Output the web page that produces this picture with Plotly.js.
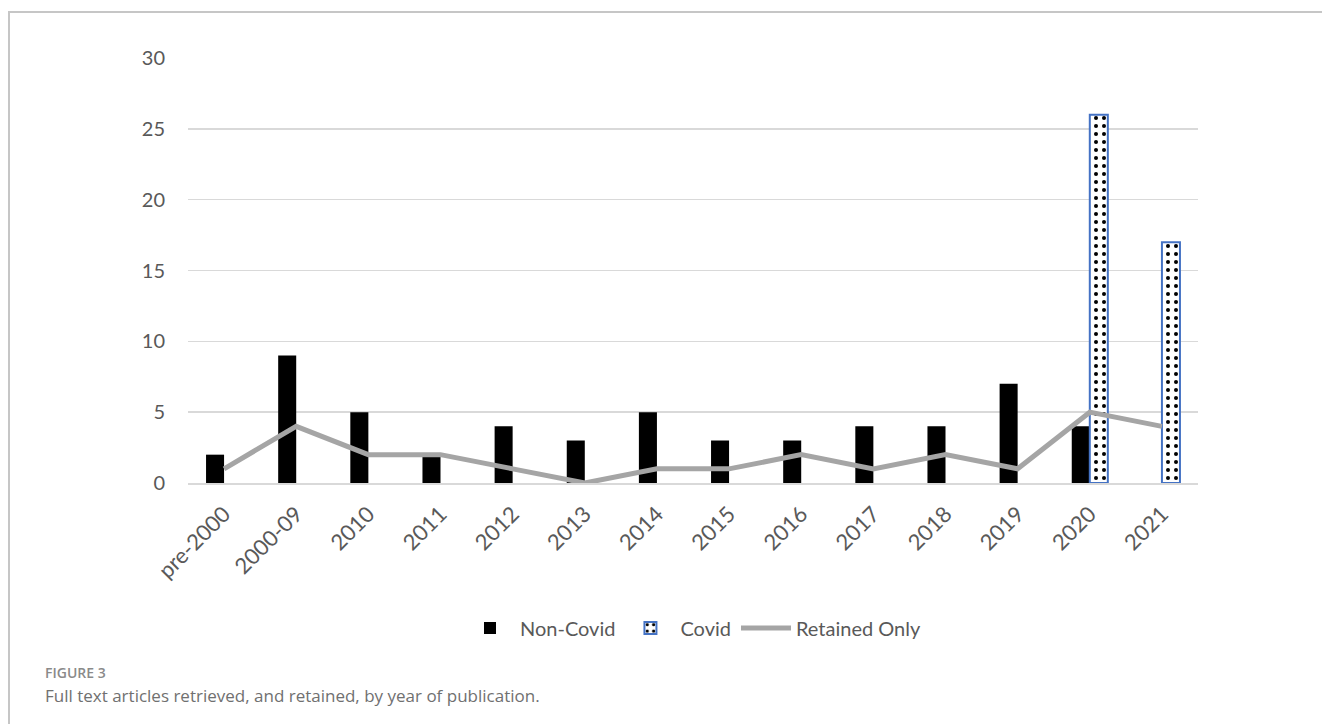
<!DOCTYPE html>
<html>
<head>
<meta charset="utf-8">
<script src="https://cdn.plot.ly/plotly-3.0.1.min.js"></script>
<style>
  html, body { margin:0; padding:0; background:#fff; }
  #frame { position:absolute; left:8px; top:11px; width:1314px; height:713px; border-left:2px solid #c6c6c6; border-top:2px solid #c6c6c6; box-sizing:border-box; pointer-events:none; z-index:5; }
  #chart { width:1322px; height:724px; }
</style>
</head>
<body>
<div id="frame"></div>
<div id="chart"></div>
<script>
const categories = ["pre-2000","2000-09","2010","2011","2012","2013","2014","2015","2016","2017","2018","2019","2020","2021"];
const nonCovid = [2, 9, 5, 2, 4, 3, 5, 3, 3, 4, 4, 7, 4, null];
const covid = [null, null, null, null, null, null, null, null, null, null, null, null, 26, 17];
const retainedOnly = [1, 4, 2, 2, 1, 0, 1, 1, 2, 1, 2, 1, 5, 4];
const yTicks = [0, 5, 10, 15, 20, 25, 30];
const figureLabel = "FIGURE 3";
const caption = "Full text articles retrieved, and retained, by year of publication.";

const tickFont = {family: "Lato, Liberation Sans, Arial, sans-serif", size: 20, color: "#595959"};
const xTickFont = {family: "Lato, Liberation Sans, Arial, sans-serif", size: 22, color: "#595959"};

const traces = [
  {type: "bar", name: "Non-Covid", x: categories, y: nonCovid,
   marker: {color: "#000000", line: {width: 0}}},
  {type: "bar", name: "Covid", x: categories, y: covid,
   marker: {color: "#ffffff", line: {color: "#4472C4", width: 2},
            pattern: {shape: ".", fgcolor: "#000000", bgcolor: "#ffffff", size: 8, solidity: 0.2}}},
  {type: "scatter", mode: "lines", name: "Retained Only", x: categories, y: retainedOnly,
   line: {color: "#A5A5A5", width: 5}}
];

const layout = {
  width: 1322, height: 724,
  margin: {l: 188, r: 124, t: 58, b: 241},
  paper_bgcolor: "#ffffff", plot_bgcolor: "#ffffff",
  barmode: "group", bargap: 0.5, bargroupgap: 0,
  showlegend: true,
  legend: {orientation: "h", x: 0.5, xanchor: "center", xref: "paper", y: -0.341, yanchor: "middle",
           font: tickFont, traceorder: "normal", itemwidth: 50},
  xaxis: {type: "category", tickangle: -45, tickfont: xTickFont, showgrid: false,
          showline: true, linecolor: "#D9D9D9", linewidth: 1.5, ticks: "", zeroline: false,
          ticklabelstandoff: 8},
  yaxis: {range: [0, 30], tickvals: yTicks, tickfont: tickFont, showgrid: true,
          gridcolor: "#D9D9D9", gridwidth: 1.5, zeroline: false, showline: false, ticks: "",
          ticklabelstandoff: 22},
  annotations: [
    {text: figureLabel, xref: "paper", yref: "paper", x: -0.1436, y: -0.445, xanchor: "left", yanchor: "middle",
     showarrow: false, font: {family: "Open Sans, sans-serif", size: 14, color: "#8a8a8a", weight: 600}},
    {text: caption, xref: "paper", yref: "paper", x: -0.1436, y: -0.499, xanchor: "left", yanchor: "middle",
     showarrow: false, font: {family: "Open Sans, sans-serif", size: 17, color: "#707070"}}
  ]
};

Plotly.newPlot("chart", traces, layout, {displayModeBar: false, staticPlot: true});
</script>
</body>
</html>
